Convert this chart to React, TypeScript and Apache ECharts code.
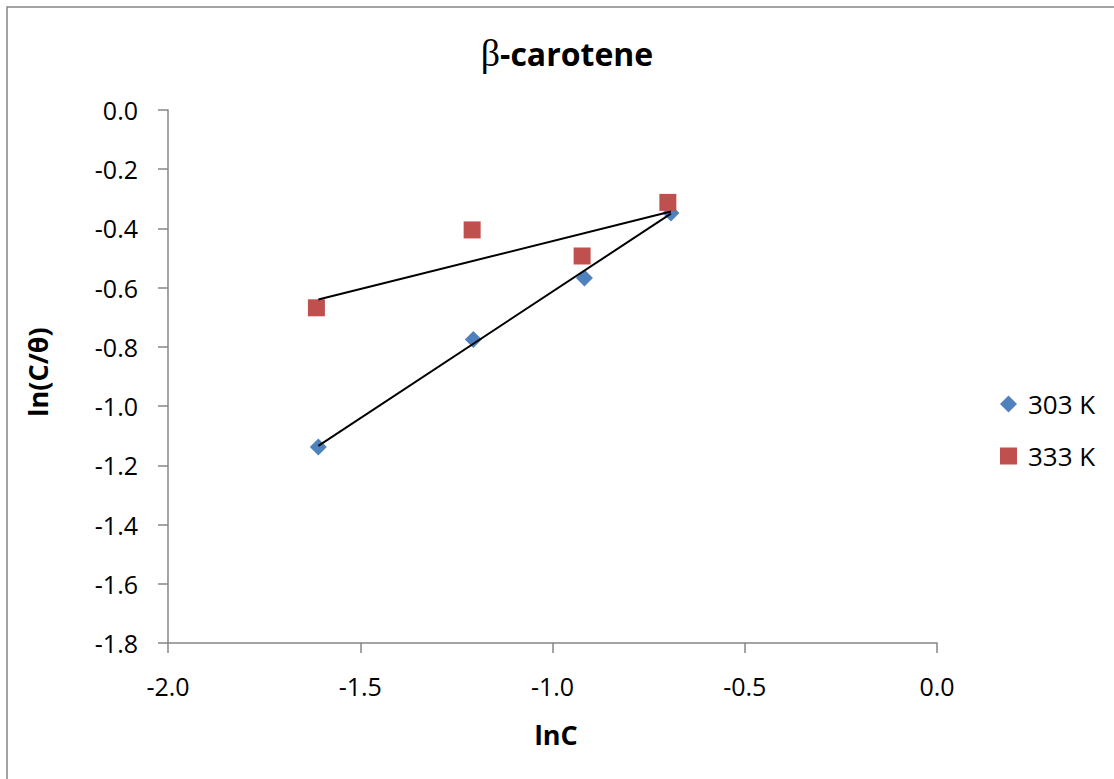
import React, { useEffect, useRef } from "react";
import * as echarts from "echarts";

const xTicks = [-2.0, -1.5, -1.0, -0.5, 0.0];
const lnC303 = [-1.609, -1.206, -0.917, -0.692];
const lnCTheta303 = [-1.138, -0.775, -0.567, -0.348];
const lnC333 = [-1.614, -1.209, -0.923, -0.7];
const lnCTheta333 = [-0.668, -0.405, -0.493, -0.312];
const trendX = [-1.609, -0.692];
const trend303 = [-1.134, -0.35];
const trend333 = [-0.64, -0.343];
const seriesNames = ["303 K", "333 K"];

const FONT = "'Open Sans', 'Noto Sans', sans-serif";

export default function App() {
  const ref = useRef<HTMLDivElement>(null);
  useEffect(() => {
    document.body.style.margin = "0";
    const chart = echarts.init(ref.current!, null, { renderer: "svg" });
    const pts = (xs: number[], ys: number[]) => xs.map((x, i) => [x, ys[i]]);
    chart.setOption({
      animation: false,
      backgroundColor: "#ffffff",
      textStyle: { fontFamily: FONT },
      grid: { left: 168, top: 110, right: 177, bottom: 136, containLabel: false },
      xAxis: {
        type: "value",
        min: xTicks[0],
        max: xTicks[xTicks.length - 1],
        interval: 0.5,
        axisLine: { onZero: false, lineStyle: { color: "#868686", width: 1.5 } },
        axisTick: { show: true, inside: false, length: 10, lineStyle: { color: "#868686", width: 1.5 } },
        splitLine: { show: false },
        axisLabel: {
          margin: 30,
          fontSize: 25,
          color: "#000",
          fontFamily: FONT,
          formatter: (v: number) => v.toFixed(1),
        },
      },
      yAxis: {
        type: "value",
        min: -1.8,
        max: 0,
        interval: 0.2,
        axisLine: { show: true, onZero: false, lineStyle: { color: "#868686", width: 1.5 } },
        axisTick: { show: true, inside: false, length: 10, lineStyle: { color: "#868686", width: 1.5 } },
        splitLine: { show: false },
        axisLabel: {
          margin: 30,
          fontSize: 25,
          color: "#000",
          fontFamily: FONT,
          formatter: (v: number) => v.toFixed(1),
        },
      },
      legend: {
        data: seriesNames,
        orient: "vertical",
        left: 995,
        top: 386,
        itemWidth: 17,
        itemHeight: 17,
        itemGap: 26,
        textStyle: { fontSize: 26, color: "#000", fontFamily: FONT, padding: [0, 0, 0, 6] },
      },
      graphic: [
        {
          type: "rect",
          shape: { x: 7, y: 7, width: 1120, height: 790 },
          style: { fill: "none", stroke: "#868686", lineWidth: 1.5 },
          silent: true,
        },
        {
          type: "text",
          x: 567,
          y: 53,
          style: {
            text: "{b|β}{t|-carotene}",
            align: "center",
            verticalAlign: "middle",
            rich: {
              b: { fontSize: 38, fontFamily: "'Liberation Serif', serif", fill: "#000" },
              t: { fontSize: 32, fontWeight: "bold", fontFamily: FONT, fill: "#000" },
            },
          },
        },
        {
          type: "text",
          x: 556,
          y: 734,
          style: {
            text: "lnC",
            align: "center",
            verticalAlign: "middle",
            fontSize: 27,
            fontWeight: "bold",
            fontFamily: FONT,
            fill: "#000",
          },
        },
        {
          type: "text",
          x: 37,
          y: 372,
          rotation: Math.PI / 2,
          style: {
            text: "ln(C/θ)",
            align: "center",
            verticalAlign: "middle",
            fontSize: 27,
            fontWeight: "bold",
            fontFamily: FONT,
            fill: "#000",
          },
        },
      ],
      series: [
        {
          name: seriesNames[0],
          type: "scatter",
          symbol: "diamond",
          symbolSize: 17,
          itemStyle: { color: "#4F81BD", opacity: 1 },
          data: pts(lnC303, lnCTheta303),
          z: 2,
        },
        {
          name: seriesNames[1],
          type: "scatter",
          symbol: "rect",
          symbolSize: 17,
          itemStyle: { color: "#C0504D", opacity: 1 },
          data: pts(lnC333, lnCTheta333),
          z: 3,
        },
        {
          name: "trend303",
          type: "line",
          showSymbol: false,
          symbol: "none",
          lineStyle: { color: "#000", width: 2 },
          data: pts(trendX, trend303),
          z: 4,
        },
        {
          name: "trend333",
          type: "line",
          showSymbol: false,
          symbol: "none",
          lineStyle: { color: "#000", width: 2 },
          data: pts(trendX, trend333),
          z: 4,
        },
      ],
    });
    return () => chart.dispose();
  }, []);
  return <div ref={ref} style={{ width: 1114, height: 779 }} />;
}
